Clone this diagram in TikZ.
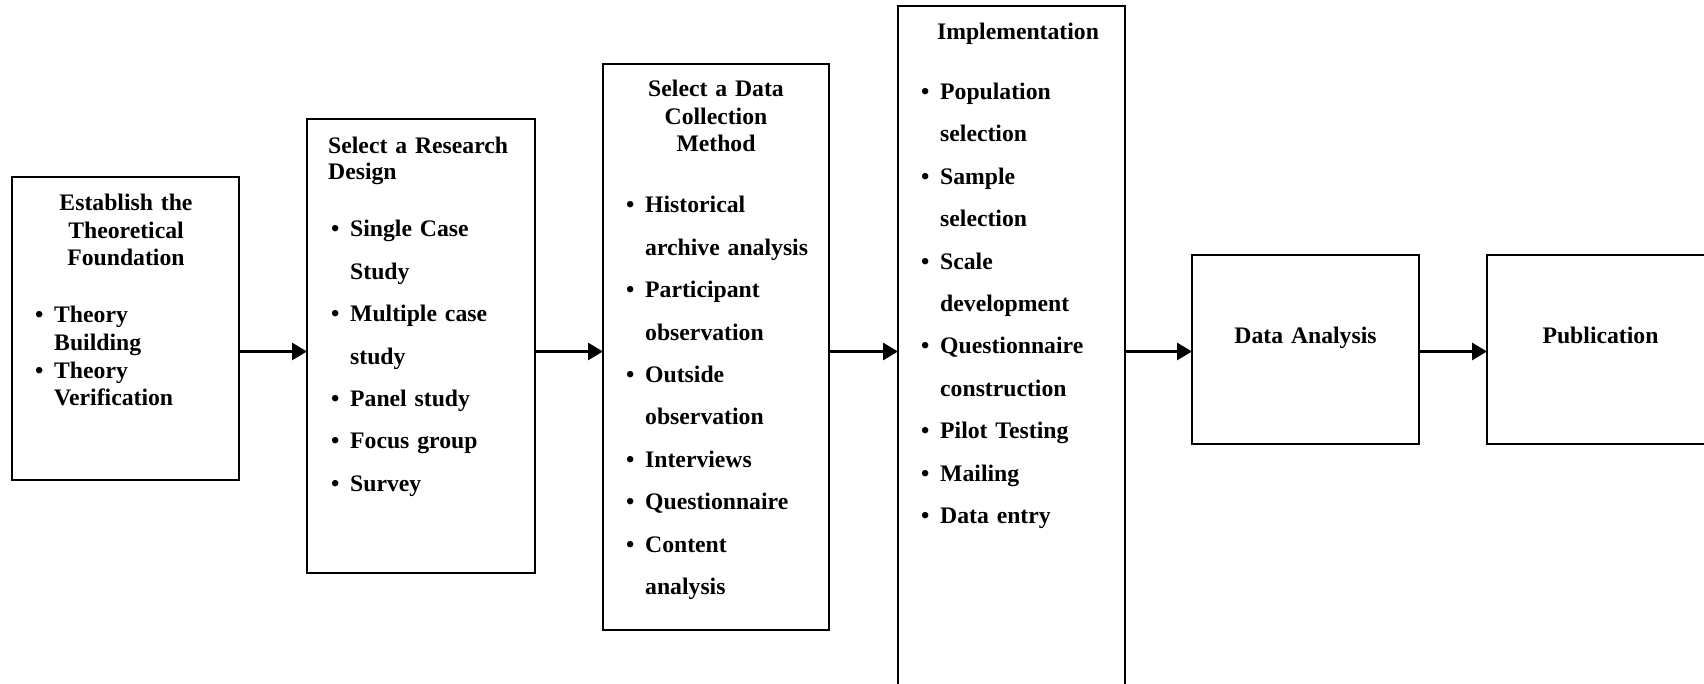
\documentclass[tikz,border=0pt]{standalone}
\usepackage{fontspec}
\setmainfont{Liberation Serif}
\usetikzlibrary{arrows.meta}
% bullet with hanging indent, and the indent for continuation lines
\newcommand\itm{\makebox[19pt][l]{\textbullet}}
\newcommand\cnt{\hspace*{19pt}}
\begin{document}
\begin{tikzpicture}[x=1pt,y=-1pt,
  box/.style={draw, line width=2pt, inner sep=0pt, outer sep=0pt, anchor=north west},
  arr/.style={line width=2.8pt, -{Triangle[length=15pt,width=17pt]}},
  title/.style={inner sep=0pt, anchor=base, align=center, text width=#1,
    font=\fontsize{23.7}{27.5}\selectfont\bfseries},
  itemlist/.style={inner sep=0pt, anchor=base west, align=left, text width=#1,
    font=\fontsize{23.7}{42.4}\selectfont\bfseries},
  shortlist/.style={inner sep=0pt, anchor=base west, align=left, text width=#1,
    font=\fontsize{23.7}{27.5}\selectfont\bfseries}]
\clip (0,0) rectangle (1704,684);
\fill[white] (0,0) rectangle (1704,684);

% boxes
\node[box, minimum width=227pt, minimum height=303pt] (b1) at (12,177) {};
\node[box, minimum width=228pt, minimum height=454pt] (b2) at (307,119) {};
\node[box, minimum width=226pt, minimum height=566pt] (b3) at (603,64) {};
\node[box, minimum width=227pt, minimum height=720pt] (b4) at (898,6) {};
\node[box, minimum width=227pt, minimum height=189pt] (b5) at (1192,255) {};
\node[box, minimum width=227pt, minimum height=189pt] (b6) at (1487,255) {};

% box 1
\node[title=220pt] (t1) at (126,211) {Establish the\\Theoretical\\Foundation};
\node[shortlist=190pt] (l1) at (35,323)
  {\itm Theory\\\cnt Building\\\itm Theory\\\cnt Verification};

% box 2
\node[inner sep=0pt, anchor=base west, align=left, text width=190pt,
  font=\fontsize{23.7}{26}\selectfont\bfseries] (t2) at (328,154)
  {\makebox[185pt][s]{Select a Research}\\Design};
\node[itemlist=200pt] (l2) at (331,237)
  {\itm Single Case\\\cnt Study\\\itm Multiple case\\\cnt study\\
   \itm Panel study\\\itm Focus group\\\itm Survey};

% box 3
\node[title=220pt] (t3) at (716,97) {Select a Data\\Collection\\Method};
\node[itemlist=200pt] (l3) at (626,213)
  {\itm Historical\\\cnt archive analysis\\\itm Participant\\\cnt observation\\
   \itm Outside\\\cnt observation\\\itm Interviews\\\itm Questionnaire\\
   \itm Content\\\cnt analysis};

% box 4
\node[title=220pt] (t4) at (1018,39.5) {Implementation};
\node[itemlist=200pt] (l4) at (921,99.5)
  {\itm Population\\\cnt selection\\\itm Sample\\\cnt selection\\
   \itm Scale\\\cnt development\\\itm Questionnaire\\\cnt construction\\
   \itm Pilot Testing\\\itm Mailing\\\itm Data entry};

% boxes 5 and 6
\node[title=220pt] (t5) at (1305.5,344) {Data Analysis};
\node[title=220pt] (t6) at (1600.5,344) {Publication};

% connectors
\coordinate (ay) at (0,351.5);
\draw[arr] (b1.east |- ay) -- (b2.west |- ay);
\draw[arr] (b2.east |- ay) -- (b3.west |- ay);
\draw[arr] (b3.east |- ay) -- (b4.west |- ay);
\draw[arr] (b4.east |- ay) -- (b5.west |- ay);
\draw[arr] (b5.east |- ay) -- (b6.west |- ay);
\end{tikzpicture}
\end{document}
